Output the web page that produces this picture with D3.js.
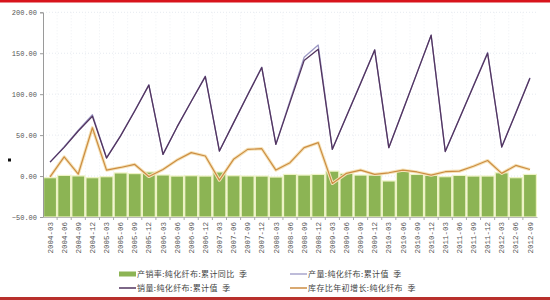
<!DOCTYPE html>
<html><head><meta charset="utf-8">
<script src="https://cdn.jsdelivr.net/npm/d3@7/dist/d3.min.js"></script>
<style>
body{margin:0;background:#fff;}
svg{display:block;}
text{white-space:pre;}
</style></head>
<body><svg id="c" width="550" height="300"></svg>
<script>
const categories = ["2004-03","2004-06","2004-09","2004-12","2005-03","2005-06","2005-09","2005-12",
"2006-03","2006-06","2006-09","2006-12","2007-03","2007-06","2007-09","2007-12",
"2008-03","2008-06","2008-09","2008-12","2009-03","2009-06","2009-09","2009-12",
"2010-03","2010-06","2010-09","2010-12","2011-03","2011-06","2011-09","2011-12",
"2012-03","2012-06","2012-09"];
// 产销率:纯化纤布:累计同比 季
const ratioYoY = [-2,0.8,0.2,-2,-0.8,3.8,3,5,1.3,0,0.4,0,5,0.4,0,0,-1.2,2,1.2,2,6,3.3,1.2,1.2,-6,6,2,0.8,-0.8,0.8,0,0,4,-2,2];
// 产量:纯化纤布:累计值 季
const output = [17,36,56,75,22.5,49.5,80,111.5,26.5,60,91,122,30.6,65,99.5,133,38.7,92,145,160,32.6,73,113.5,154,34.7,80.5,126,172,30,70,110.5,151,35.5,77.5,120];
// 销量:纯化纤布:累计值 季
const sales = [17,35,55,73,22,49,79.5,111,26.5,60,91,121.5,30.6,65,99,132.5,38.7,90,141,155,32.6,73,113,154,34.7,80,126,172,30,70,110,150,35.5,77,119.5];
// 库存比年初增长:纯化纤布 季
const inventory = [-1,23.5,2.5,59,7.3,10.5,14.2,-0.5,8,19.6,28.6,24.5,-5,20.4,32.6,33.4,7.3,16.3,34.7,40.8,-9,3.3,7.3,2,4,7.3,5,1.2,5.3,6,12,19,3.3,13,8];
const yTicks = [-50,0,50,100,150,200];
const legendLabels = ["产销率:纯化纤布:累计同比  季","产量:纯化纤布:累计值  季","销量:纯化纤布:累计值  季","库存比年初增长:纯化纤布  季"];

const svg = d3.select("#c");
const L = 43, R = 537, T = 12.3, B = 217;
const x = d3.scaleBand().domain(categories).range([L, R]).padding(0);
const y = d3.scaleLinear().domain([-50, 200]).range([B, T]);
const cx = d => x(d) + x.bandwidth()/2;

// borders
svg.append("rect").attr("x",0).attr("y",0).attr("width",550).attr("height",2.5).attr("fill","#d8141c");
svg.append("rect").attr("x",0).attr("y",297).attr("width",550).attr("height",3).attr("fill","#b8302c");

// grid
const g = svg.append("g");
g.selectAll(".hg").data(yTicks.slice(1)).join("line")
 .attr("x1",L).attr("x2",R).attr("y1",d=>y(d)).attr("y2",d=>y(d))
 .attr("stroke","#e6eaf0").attr("stroke-dasharray","1,2").attr("stroke-width",1);
g.selectAll(".vg").data(categories.slice(1)).join("line")
 .attr("x1",d=>x(d)).attr("x2",d=>x(d)).attr("y1",T).attr("y2",B)
 .attr("stroke","#eef0f4").attr("stroke-dasharray","1,2").attr("stroke-width",1);

// bars from axis min
svg.append("g").selectAll("rect").data(ratioYoY).join("rect")
 .attr("x",(d,i)=>x(categories[i])+0.6)
 .attr("width",x.bandwidth()-1.2)
 .attr("y",d=>y(d))
 .attr("height",d=>y(-50)-y(d))
 .attr("fill","#8cb454")
 .attr("stroke","#eef3c4").attr("stroke-width",1.2);

const line = d3.line().x((d,i)=>cx(categories[i])).y(d=>y(d));

// inventory line with halo
svg.append("path").datum(inventory).attr("d",line).attr("fill","none")
 .attr("stroke","#f5e2b8").attr("stroke-width",3.2).attr("stroke-linejoin","round");
svg.append("path").datum(inventory).attr("d",line).attr("fill","none")
 .attr("stroke","#cc8d42").attr("stroke-width",1.2).attr("stroke-linejoin","round");

// production
svg.append("path").datum(output).attr("d",line).attr("fill","none")
 .attr("stroke","#ffffff").attr("stroke-width",3).attr("stroke-linejoin","round");
svg.append("path").datum(output).attr("d",line).attr("fill","none")
 .attr("stroke","#9c98c4").attr("stroke-width",1.3).attr("stroke-linejoin","round");
// sales
svg.append("path").datum(sales).attr("d",line).attr("fill","none")
 .attr("stroke","#52345f").attr("stroke-width",1.3).attr("stroke-linejoin","round");

// y axis
const yAxis = d3.axisLeft(y).tickValues(yTicks).tickFormat(d3.format(".2f")).tickSize(3).tickPadding(3);
const ya = svg.append("g").attr("transform",`translate(${L},0)`).call(yAxis);
ya.select(".domain").attr("stroke","#9a9a9a");
ya.selectAll(".tick line").attr("stroke","#9a9a9a");
ya.selectAll("text").attr("font-family","Liberation Mono, DejaVu Sans Mono, monospace")
 .attr("font-size","7px").attr("fill","#555");

// x axis
const xAxis = d3.axisBottom(x).tickSize(0).tickPadding(0);
const xa = svg.append("g").attr("transform",`translate(0,${B})`).call(xAxis);
xa.select(".domain").attr("stroke","#bbb");
xa.selectAll("text")
 .attr("font-family","Liberation Mono, DejaVu Sans Mono, monospace")
 .attr("font-size","7.5px").attr("fill","#555")
 .attr("text-anchor","end")
 .attr("dy","0.35em")
 .attr("transform","translate(0,5) rotate(-90)")
 .attr("x",0).attr("y",0);
svg.append("g").selectAll("line").data(categories.slice(1)).join("line")
 .attr("x1",d=>x(d)).attr("x2",d=>x(d)).attr("y1",B).attr("y2",B+3).attr("stroke","#aaa");

// small marker on left
svg.append("rect").attr("x",8).attr("y",158.5).attr("width",3).attr("height",3).attr("fill","#111");

// legend
const lg = svg.append("g").attr("font-family","Noto Sans CJK SC, sans-serif").attr("font-size","8px").attr("fill","#444").attr("letter-spacing","0.4px");
const legendPos = [[119,274],[290,274],[119,288],[290,288]];
const legendStyles = [
  {type:"rect", color:"#8cb454"},
  {type:"line", color:"#a8a6cc"},
  {type:"line", color:"#52345f"},
  {type:"line", color:"#cc8d42"}];
legendLabels.forEach((t,i)=>{
  const [lx,ly] = legendPos[i];
  const s = legendStyles[i];
  if (s.type==="rect") lg.append("rect").attr("x",lx).attr("y",ly-2.5).attr("width",17).attr("height",5).attr("fill",s.color);
  else lg.append("line").attr("x1",lx).attr("x2",lx+17).attr("y1",ly).attr("y2",ly).attr("stroke",s.color).attr("stroke-width",1.5);
  lg.append("text").attr("x",lx+18).attr("y",ly).attr("dy","0.35em").text(t);
});
</script></body></html>
